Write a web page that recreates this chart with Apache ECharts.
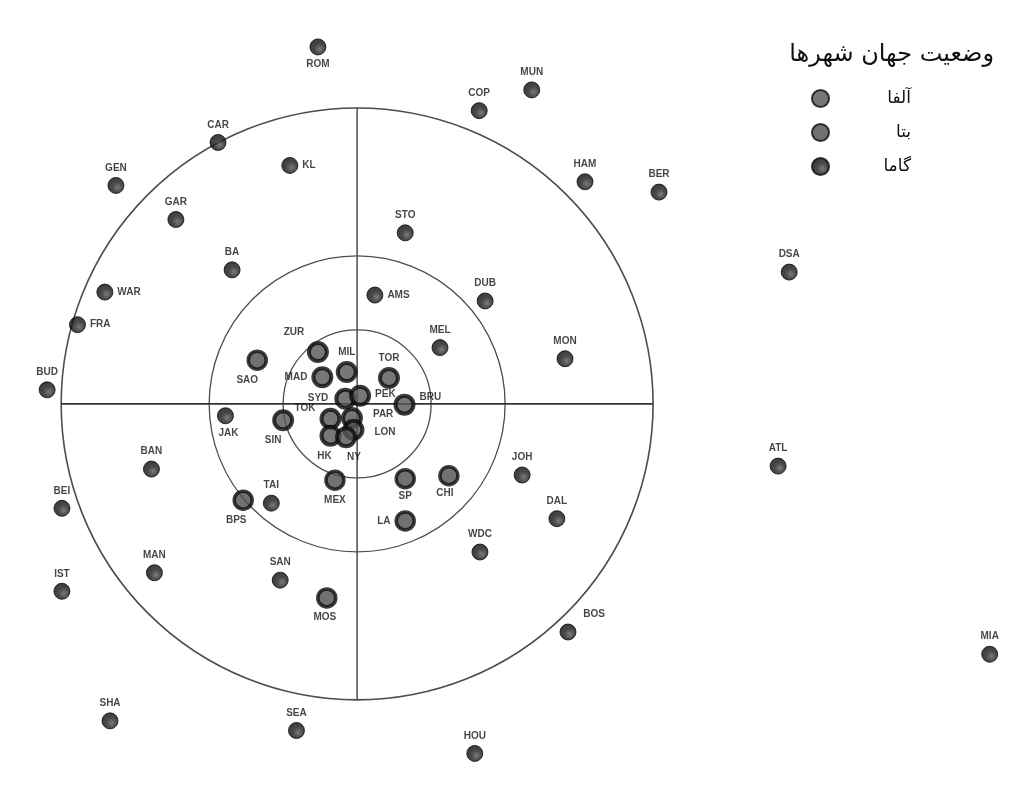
<!DOCTYPE html>
<html>
<head>
<meta charset="utf-8">
<script src="https://cdn.jsdelivr.net/npm/echarts@6/dist/echarts.min.js"></script>
<style>
html,body{margin:0;padding:0;background:#fff;}
#c{width:1029px;height:792px;}
</style>
</head>
<body>
<div id="c"></div>
<script>
// ---- data (units: 1 = inner ring radius) ----
const cityNames = ['ROM','COP','MUN','CAR','KL','GEN','GAR','HAM','BER','STO','BA','DSA','WAR','AMS','DUB','FRA','MEL','MON',
  'ZUR','MIL','SAO','MAD','TOR','BUD','SYD','PEK','TOK','PAR','HK','LON','NY','SIN','BRU','JAK','BAN','MEX','SP','CHI','JOH',
  'TAI','BPS','BEI','DAL','LA','WDC','SAN','MAN','IST','MOS','BOS','SHA','SEA','HOU','ATL','MIA'];
const cityX = [-0.53,1.65,2.36,-1.88,-0.91,-3.26,-2.45,3.08,4.08,0.65,-1.69,5.84,-3.41,0.24,1.73,-3.78,1.12,2.81,
  -0.53,-0.14,-1.35,-0.47,0.43,-4.19,-0.16,0.04,-0.36,-0.07,-0.36,-0.05,-0.15,-1.00,0.64,-1.78,-2.78,-0.30,0.65,1.24,2.23,
  -1.16,-1.54,-3.99,2.70,0.65,1.66,-1.04,-2.74,-3.99,-0.41,2.85,-3.34,-0.82,1.59,5.69,8.55];
const cityY = [4.82,3.96,4.24,3.53,3.22,2.95,2.49,3.00,2.86,2.31,1.81,1.78,1.51,1.47,1.39,1.07,0.76,0.61,
  0.70,0.43,0.59,0.36,0.35,0.19,0.07,0.11,-0.20,-0.19,-0.43,-0.35,-0.45,-0.22,-0.01,-0.16,-0.88,-1.03,-1.01,-0.97,-0.96,
  -1.34,-1.30,-1.41,-1.55,-1.58,-2.00,-2.38,-2.28,-2.53,-2.62,-3.08,-4.28,-4.41,-4.72,-0.84,-3.38];
const cityTier = ['g','g','g','g','g','g','g','g','g','g','g','g','g','g','g','g','g','g',
  'a','a','b','a','a','g','a','a','a','a','a','a','a','a','a','g','g','b','b','b','g',
  'g','b','g','g','b','g','g','g','g','b','g','g','g','g','g','g'];
const tierNames = {a:'آلفا', b:'بتا', g:'گاما'};
const chartTitle = 'وضعیت جهان شهرها';
const ringRadii = [1, 2, 4];

// label placement (style only)
const labelPlace = {
  ROM:['bottom',[0,0]], KL:['right',[0,0]], WAR:['right',[0,0]], AMS:['right',[0,0]], FRA:['right',[0,0]],
  ZUR:['top',[-24,0]], SAO:['bottom',[-10,0]], MAD:['left',[0,0]], SYD:['left',[-2,0]], PEK:['right',[0,-2]],
  TOK:['left',[0,-10]], PAR:['right',[6,-4]], HK:['bottom',[-6,0]], LON:['right',[6,2]], NY:['bottom',[8,0]],
  SIN:['bottom',[-10,0]], BRU:['right',[0,-7]], JAK:['bottom',[3,0]], MEX:['bottom',[0,0]], SP:['bottom',[0,-2]],
  CHI:['bottom',[-4,-2]], BPS:['bottom',[-7,0]], LA:['left',[0,0]], MOS:['bottom',[-2,0]], BOS:['top',[26,0]]
};

const styles = {
  a: {color:'#555', borderColor:'#0a0a0a', borderWidth:4},
  b: {color:'#4d4d4d', borderColor:'#0d0d0d', borderWidth:3.5},
  g: {color:{type:'radial', x:0.6, y:0.62, r:0.6, colorStops:[{offset:0,color:'#5a5a5a'},{offset:0.5,color:'#1c1c1c'},{offset:1,color:'#0a0a0a'}]},
      borderColor:'#0d0d0d', borderWidth:1}
};

function tierSeries(t){
  const data = [];
  cityNames.forEach((n,i)=>{
    if(cityTier[i]!==t) return;
    const lp = labelPlace[n] || ['top',[0,0]];
    data.push({name:n, value:[cityX[i], cityY[i]], label:{position:lp[0], offset:lp[1]}});
  });
  return {
    type:'scatter', name:tierNames[t], data, z:3,
    symbol:'circle', symbolSize: t==='g'?16:18,
    itemStyle: styles[t],
    label:{show:true, formatter:p=>p.name, color:'#151515', fontSize:10, fontWeight:'bold',
           fontFamily:'Liberation Sans, Arial, sans-serif', distance:4},
    emphasis:{disabled:true}
  };
}

const R = ringRadii[ringRadii.length-1];
const chart = echarts.init(document.getElementById('c'), null, {renderer:'canvas'});
chart.setOption({
  animation:false,
  backgroundColor:'#fff',
  title:{text:chartTitle, right:30, top:38,
    textStyle:{fontSize:24, fontWeight:'normal', color:'#111', fontFamily:'DejaVu Sans, Noto Sans, sans-serif'}},
  legend:{
    orient:'vertical', left:806, top:84, itemWidth:17, itemHeight:17, itemGap:15,
    data:[tierNames.a, tierNames.b, tierNames.g],
    formatter: n=>'{t|'+n+'}',
    textStyle:{rich:{t:{width:77, align:'right', fontSize:17, color:'#111', fontFamily:'DejaVu Sans, sans-serif'}}}
  },
  grid:{left:2, right:6, top:4, bottom:3},
  xAxis:{type:'value', min:-4.8, max:9.0, show:false, splitLine:{show:false}},
  yAxis:{type:'value', min:-5.2, max:5.4, show:false, splitLine:{show:false}},
  series:[
    {
      type:'custom', z:1, silent:true,
      data: ringRadii.map(r=>[r,0]),
      encode:{x:0, y:1},
      renderItem:(params, api)=>{
        const c = api.coord([0,0]);
        const r = api.size([api.value(0),0])[0];
        const children = [{type:'circle', shape:{cx:c[0], cy:c[1], r:r},
          style:{fill:'none', stroke:'#4d4d4d', lineWidth: params.dataIndex===2?1.6:1.3}}];
        if(params.dataIndex===ringRadii.length-1){
          const l = api.coord([-R,0]), rr = api.coord([R,0]);
          const t = api.coord([0,R]), b = api.coord([0,-R]);
          children.push({type:'line', shape:{x1:l[0],y1:l[1],x2:rr[0],y2:rr[1]}, style:{stroke:'#333', lineWidth:1.6}});
          children.push({type:'line', shape:{x1:t[0],y1:t[1],x2:b[0],y2:b[1]}, style:{stroke:'#555', lineWidth:1.6}});
        }
        return {type:'group', children};
      }
    },
    tierSeries('a'), tierSeries('b'), tierSeries('g')
  ]
});
</script>
</body>
</html>
